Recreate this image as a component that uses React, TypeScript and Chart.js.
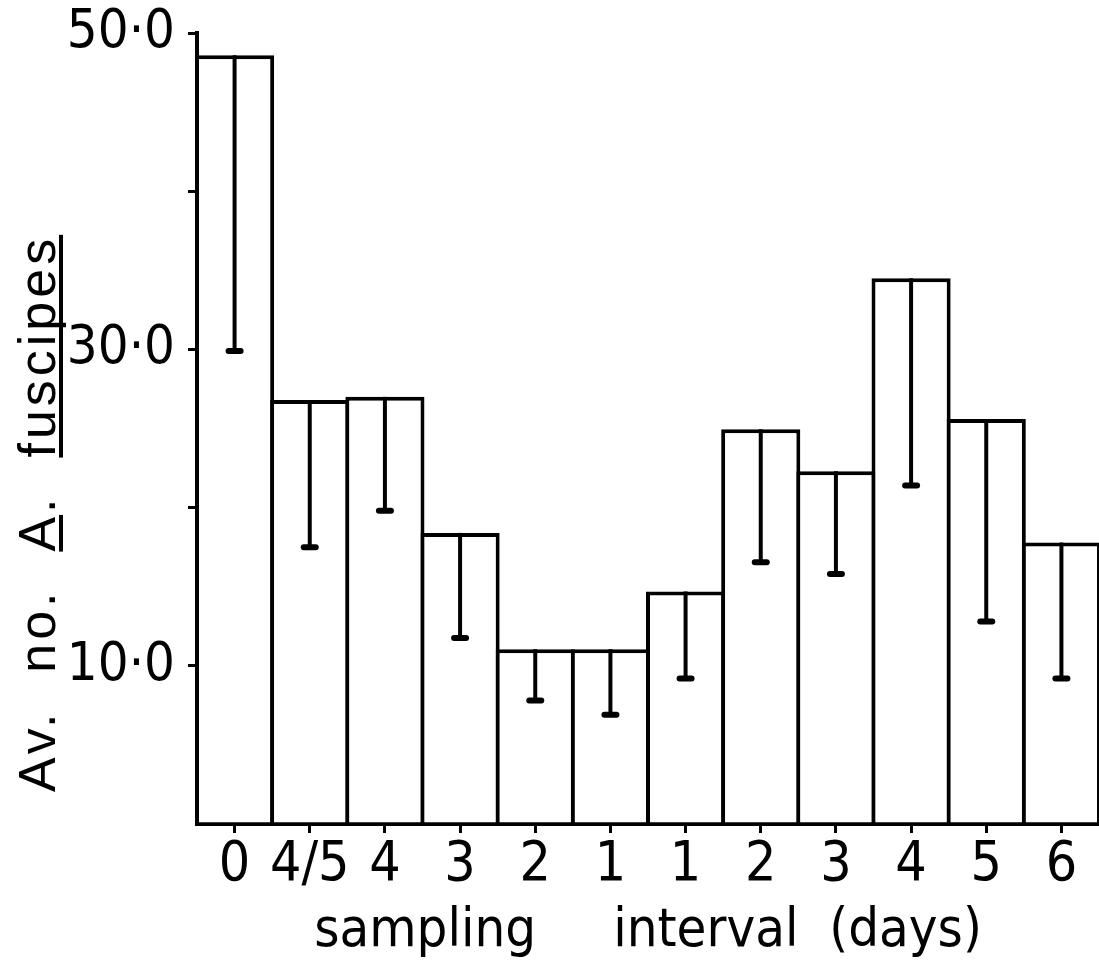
import { useEffect, useRef } from 'react';
import { Chart, registerables } from 'chart.js';

Chart.register(...registerables);

// ---- data ----
const categories = ['0', '4/5', '4', '3', '2', '1', '1', '2', '3', '4', '5', '6'];
const meanCounts = [48.6, 26.8, 27.0, 18.4, 11.05, 11.05, 14.7, 24.95, 22.3, 34.5, 25.6, 17.8];
const lowerErrorValues = [29.9, 17.5, 19.8, 11.75, 7.8, 6.9, 9.2, 16.55, 15.8, 21.4, 12.8, 9.2];
const yLabelValues = [10, 30, 50];
const yLabelTexts = ['10·0', '30·0', '50·0'];
const xTitle = 'sampling     interval  (days)';
const yTitleParts = ['Av.', 'no.', 'A.', 'fuscipes'];

const NARROW = '"Liberation Sans Narrow", "DejaVu Sans Condensed", "Liberation Sans", sans-serif';
const REGULAR = '"Liberation Sans", "DejaVu Sans", sans-serif';

const errorBarPlugin = {
  id: 'lowerErrorBars',
  afterDatasetsDraw(chart: any) {
    const ctx = chart.ctx;
    const meta = chart.getDatasetMeta(0);
    const yScale = chart.scales.y;
    ctx.save();
    ctx.strokeStyle = '#000';
    meta.data.forEach((el: any, i: number) => {
      const x = el.x;
      const yTop = el.y;
      const yLow = yScale.getPixelForValue(lowerErrorValues[i]);
      ctx.beginPath();
      ctx.lineCap = 'butt';
      ctx.lineWidth = 4;
      ctx.moveTo(x, yTop);
      ctx.lineTo(x, yLow);
      ctx.stroke();
      ctx.beginPath();
      ctx.lineCap = 'round';
      ctx.lineWidth = 6;
      ctx.moveTo(x - 6, yLow);
      ctx.lineTo(x + 6, yLow);
      ctx.stroke();
    });
    ctx.restore();
  },
};

const yTitlePlugin = {
  id: 'underlinedYTitle',
  afterDraw(chart: any) {
    const ctx = chart.ctx;
    ctx.save();
    ctx.font = '52px ' + REGULAR;
    try { (ctx as any).letterSpacing = '4px'; } catch (e) { /* ignore */ }
    ctx.fillStyle = '#000';
    ctx.textAlign = 'left';
    ctx.textBaseline = 'alphabetic';
    ctx.translate(55, 792);
    ctx.rotate(-Math.PI / 2);
    const sep = '  ';
    const full = yTitleParts.join(sep);
    ctx.fillText(full, 0, 0);
    // underline "A" (of A.) and "fuscipes"
    const preA = yTitleParts.slice(0, 2).join(sep) + sep;
    const aStart = ctx.measureText(preA).width;
    const aWidth = ctx.measureText('A').width;
    const preF = yTitleParts.slice(0, 3).join(sep) + sep;
    const fStart = ctx.measureText(preF).width;
    const fWidth = ctx.measureText(yTitleParts[3]).width;
    ctx.fillRect(aStart, 4, aWidth - 2, 4);
    ctx.fillRect(fStart, 4, fWidth, 4);
    ctx.restore();
  },
};

export default function App() {
  const ref = useRef<HTMLCanvasElement>(null);

  useEffect(() => {
    const canvas = ref.current;
    if (!canvas) return;
    const chart = new Chart(canvas, {
      type: 'bar',
      data: {
        labels: categories,
        datasets: [
          {
            data: meanCounts,
            backgroundColor: '#ffffff',
            borderColor: '#000000',
            borderWidth: 4,
            borderSkipped: 'bottom',
            barPercentage: 1.053,
            categoryPercentage: 1,
          },
        ],
      },
      options: {
        responsive: false,
        animation: false,
        devicePixelRatio: 1,
        layout: { padding: { top: 33, left: 0, right: 0, bottom: 0 } },
        plugins: {
          legend: { display: false },
          tooltip: { enabled: false },
          title: { display: false },
        },
        scales: {
          x: {
            grid: {
              offset: false,
              drawOnChartArea: false,
              drawTicks: true,
              tickLength: 9,
              lineWidth: 3,
              tickWidth: 3,
              color: '#000',
            },
            border: { display: true, width: 4, color: '#000' },
            ticks: {
              color: '#000',
              font: { family: NARROW, size: 55 },
              padding: 0,
              maxRotation: 0,
              autoSkip: false,
            },
            title: {
              display: true,
              text: xTitle,
              color: '#000',
              font: { family: NARROW, size: 54 },
              padding: { top: 0, bottom: 5 },
            },
            afterFit: (s: any) => {
              s.height = 145;
              s.paddingLeft = 0;
              s.paddingRight = 0;
            },
          } as any,
          y: {
            min: 0,
            max: 50,
            ticks: {
              stepSize: 10,
              color: '#000',
              font: { family: NARROW, size: 54 },
              padding: 13,
              callback: (v: any) => {
                const idx = yLabelValues.indexOf(Number(v));
                return idx >= 0 ? yLabelTexts[idx] : '';
              },
            },
            grid: {
              drawOnChartArea: false,
              drawTicks: true,
              tickLength: 9,
              lineWidth: 3,
              tickWidth: 3,
              color: (c: any) => (c.tick && c.tick.value === 0 ? 'rgba(0,0,0,0)' : '#000'),
            },
            border: { display: true, width: 4, color: '#000' },
            afterFit: (s: any) => {
              s.width = 197;
              s.paddingTop = 0;
              s.paddingBottom = 0;
            },
          } as any,
        },
      },
      plugins: [errorBarPlugin, yTitlePlugin],
    } as any);
    return () => chart.destroy();
  }, []);

  return (
    <div style={{ position: 'fixed', left: 0, top: 0, width: 1099, height: 969, background: '#fff' }}>
      <canvas ref={ref} width={1099} height={969} style={{ display: 'block', width: 1099, height: 969 }} />
    </div>
  );
}
